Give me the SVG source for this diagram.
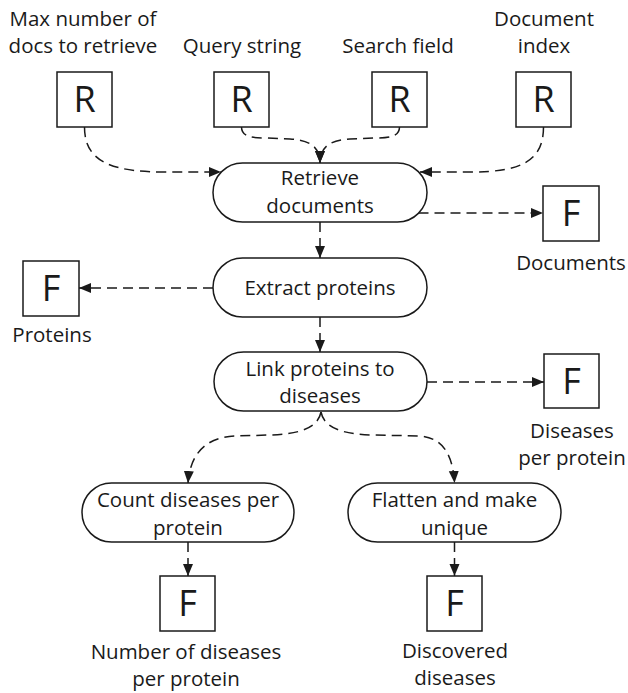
<svg xmlns="http://www.w3.org/2000/svg" width="628" height="693" viewBox="0 0 628 693">
<style>
  .box { fill: #ffffff; stroke: #1a1a1a; stroke-width: 1.5; }
  .term { fill: #ffffff; stroke: #1a1a1a; stroke-width: 1.5; }
  .big { font-family: "Open Sans", "Noto Sans", sans-serif; font-size: 36px; fill: #1a1a1a; text-anchor: middle; }
  .lbl { font-family: "Open Sans", "Noto Sans", sans-serif; font-size: 20.5px; fill: #1a1a1a; text-anchor: middle; }
  .edge { fill: none; stroke: #1a1a1a; stroke-width: 1.5; stroke-dasharray: 10 6; }
</style>
<defs>
  <marker id="arr" markerUnits="userSpaceOnUse" markerWidth="13" markerHeight="11" refX="12" refY="5.5" orient="auto">
    <path d="M0,0.5 L12,5.5 L0,10.5 z" fill="#1a1a1a"/>
  </marker>
</defs>

<g id="connectors">
  <path class="edge" d="M84.5,127 C84.5,162 112,172 165,172 L221,172" marker-end="url(#arr)"/>
  <path class="edge" d="M241.5,127 C241.5,136 250,138 265,138 L290,139 C310,140 320,147 320,163" marker-end="url(#arr)"/>
  <path class="edge" d="M399.5,127 C399.5,136 391,138 376,138 L350,139 C330,140 320,147 320,163" marker-end="url(#arr)"/>
  <path class="edge" d="M543.5,127 C543.5,162 520,172 470,172 L420,172" marker-end="url(#arr)"/>
  <path class="edge" d="M418.5,213 L543,213" marker-end="url(#arr)"/>
  <path class="edge" d="M320,222 L320,258" marker-end="url(#arr)"/>
  <path class="edge" d="M213,288 L79,288" marker-end="url(#arr)"/>
  <path class="edge" d="M320,317 L320,352" marker-end="url(#arr)"/>
  <path class="edge" d="M427,382 L544,382" marker-end="url(#arr)"/>
  <path class="edge" d="M321,412 C318,428 300,434 270,435 L235,436 C205,437 190,455 188,483" marker-end="url(#arr)"/>
  <path class="edge" d="M321,412 C324,428 342,434 372,435 L420,436 C445,438 453,458 454.5,483" marker-end="url(#arr)"/>
  <path class="edge" d="M188,542 L188,576" marker-end="url(#arr)"/>
  <path class="edge" d="M454.5,542 L454.5,576" marker-end="url(#arr)"/>
</g>

<g id="r-max">
  <text class="lbl" x="83" y="26">Max number of</text>
  <text class="lbl" x="83" y="53">docs to retrieve</text>
  <rect class="box" x="57" y="72" width="55" height="55"/>
  <text class="big" x="84.5" y="112">R</text>
</g>
<g id="r-query">
  <text class="lbl" x="242" y="53">Query string</text>
  <rect class="box" x="214" y="72" width="55" height="55"/>
  <text class="big" x="241.5" y="112">R</text>
</g>
<g id="r-field">
  <text class="lbl" x="398" y="53">Search field</text>
  <rect class="box" x="372" y="72" width="55" height="55"/>
  <text class="big" x="399.5" y="112">R</text>
</g>
<g id="r-index">
  <text class="lbl" x="544" y="26">Document</text>
  <text class="lbl" x="544" y="53">index</text>
  <rect class="box" x="516" y="72" width="55" height="55"/>
  <text class="big" x="543.5" y="112">R</text>
</g>

<g id="retrieve">
  <rect class="term" x="213" y="163" width="214" height="59" rx="29.5" ry="29.5"/>
  <text class="lbl" x="320" y="185">Retrieve</text>
  <text class="lbl" x="320" y="213">documents</text>
</g>
<g id="f-documents">
  <rect class="box" x="543" y="186" width="56" height="55"/>
  <text class="big" x="571" y="226">F</text>
  <text class="lbl" x="571" y="270">Documents</text>
</g>

<g id="extract">
  <rect class="term" x="213" y="258" width="214" height="59" rx="29.5" ry="29.5"/>
  <text class="lbl" x="320" y="295">Extract proteins</text>
</g>
<g id="f-proteins">
  <rect class="box" x="23" y="261" width="56" height="55"/>
  <text class="big" x="51" y="301">F</text>
  <text class="lbl" x="52" y="342">Proteins</text>
</g>

<g id="link">
  <rect class="term" x="214" y="352" width="213" height="59" rx="29.5" ry="29.5"/>
  <text class="lbl" x="320" y="376">Link proteins to</text>
  <text class="lbl" x="320" y="403">diseases</text>
</g>
<g id="f-diseases">
  <rect class="box" x="544" y="354" width="55" height="54"/>
  <text class="big" x="571.5" y="394">F</text>
  <text class="lbl" x="572" y="438">Diseases</text>
  <text class="lbl" x="572" y="465">per protein</text>
</g>

<g id="count">
  <rect class="term" x="82" y="483" width="212" height="59" rx="29.5" ry="29.5"/>
  <text class="lbl" x="188" y="507">Count diseases per</text>
  <text class="lbl" x="188" y="535">protein</text>
</g>
<g id="f-number">
  <rect class="box" x="160" y="576" width="55" height="55"/>
  <text class="big" x="187.5" y="616">F</text>
  <text class="lbl" x="186" y="659">Number of diseases</text>
  <text class="lbl" x="186" y="686">per protein</text>
</g>

<g id="flatten">
  <rect class="term" x="348" y="483" width="213" height="59" rx="29.5" ry="29.5"/>
  <text class="lbl" x="454.5" y="507">Flatten and make</text>
  <text class="lbl" x="454.5" y="535">unique</text>
</g>
<g id="f-discovered">
  <rect class="box" x="427" y="576" width="55" height="55"/>
  <text class="big" x="454.5" y="616">F</text>
  <text class="lbl" x="455" y="658">Discovered</text>
  <text class="lbl" x="455" y="685">diseases</text>
</g>
</svg>
